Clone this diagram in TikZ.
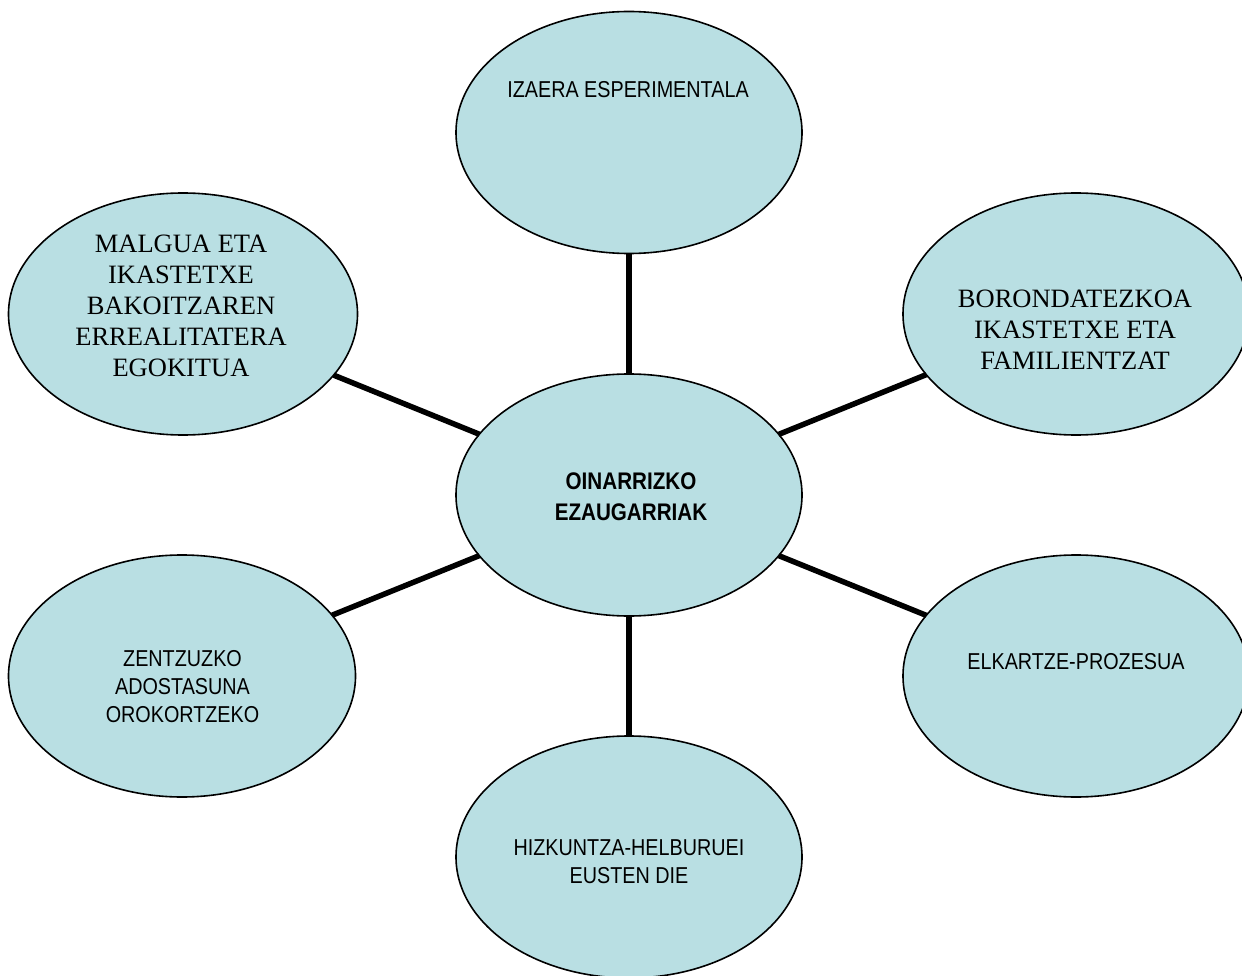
\documentclass[tikz,border=0pt]{standalone}
\usepackage{fontspec}
\setmainfont{Liberation Serif}
\newfontfamily\nar[FakeStretch=0.86]{Liberation Sans}
\usetikzlibrary{shapes.geometric}
\definecolor{bubble}{RGB}{185,223,227}
\tikzset{
  bub/.style={ellipse, draw=black, line width=1.6pt, fill=bubble, minimum width=346pt, minimum height=242pt, inner sep=0pt, outer sep=0pt},
  link/.style={line width=5.5pt, black},
  sanstxt/.style={align=center, inner sep=0pt, font=\nar\fontsize{23}{28}\selectfont},
  boldtxt/.style={align=center, inner sep=0pt, font=\nar\bfseries\fontsize{24}{31}\selectfont},
  seriftxt/.style={align=center, inner sep=0pt, font=\fontsize{26.5}{31}\selectfont}
}
\begin{document}
\begin{tikzpicture}[x=1pt,y=-1pt]
\useasboundingbox (0,0) rectangle (1242,976);
\clip (0,0) rectangle (1242,976);
\node[bub] (c) at (629,495) {};
\node[bub] (t) at (629,132.5) {};
\node[bub, minimum width=349pt] (lu) at (183,314) {};
\node[bub] (ru) at (1076,314) {};
\node[bub, minimum width=347pt] (ll) at (182,676) {};
\node[bub] (rl) at (1076,676) {};
\node[bub] (b) at (629,857) {};
\draw[link] (c) -- (t);
\draw[link] (c) -- (lu);
\draw[link] (c) -- (ru);
\draw[link] (c) -- (ll);
\draw[link] (c) -- (rl);
\draw[link] (c) -- (b);
\node[boldtxt] (ct) at (631,497) {OINARRIZKO\\EZAUGARRIAK};
\node[sanstxt] (tt) at (628,90) {IZAERA ESPERIMENTALA};
\node[seriftxt] (lut) at (181,306) {MALGUA ETA\\IKASTETXE\\BAKOITZAREN\\ERREALITATERA\\EGOKITUA};
\node[seriftxt] (rut) at (1075,330) {BORONDATEZKOA\\IKASTETXE ETA\\FAMILIENTZAT};
\node[sanstxt] (llt) at (182.5,687) {ZENTZUZKO\\ADOSTASUNA\\OROKORTZEKO};
\node[sanstxt] (rlt) at (1076,662) {ELKARTZE-PROZESUA};
\node[sanstxt] (bt) at (629,862) {HIZKUNTZA-HELBURUEI\\EUSTEN DIE};
\end{tikzpicture}
\end{document}
